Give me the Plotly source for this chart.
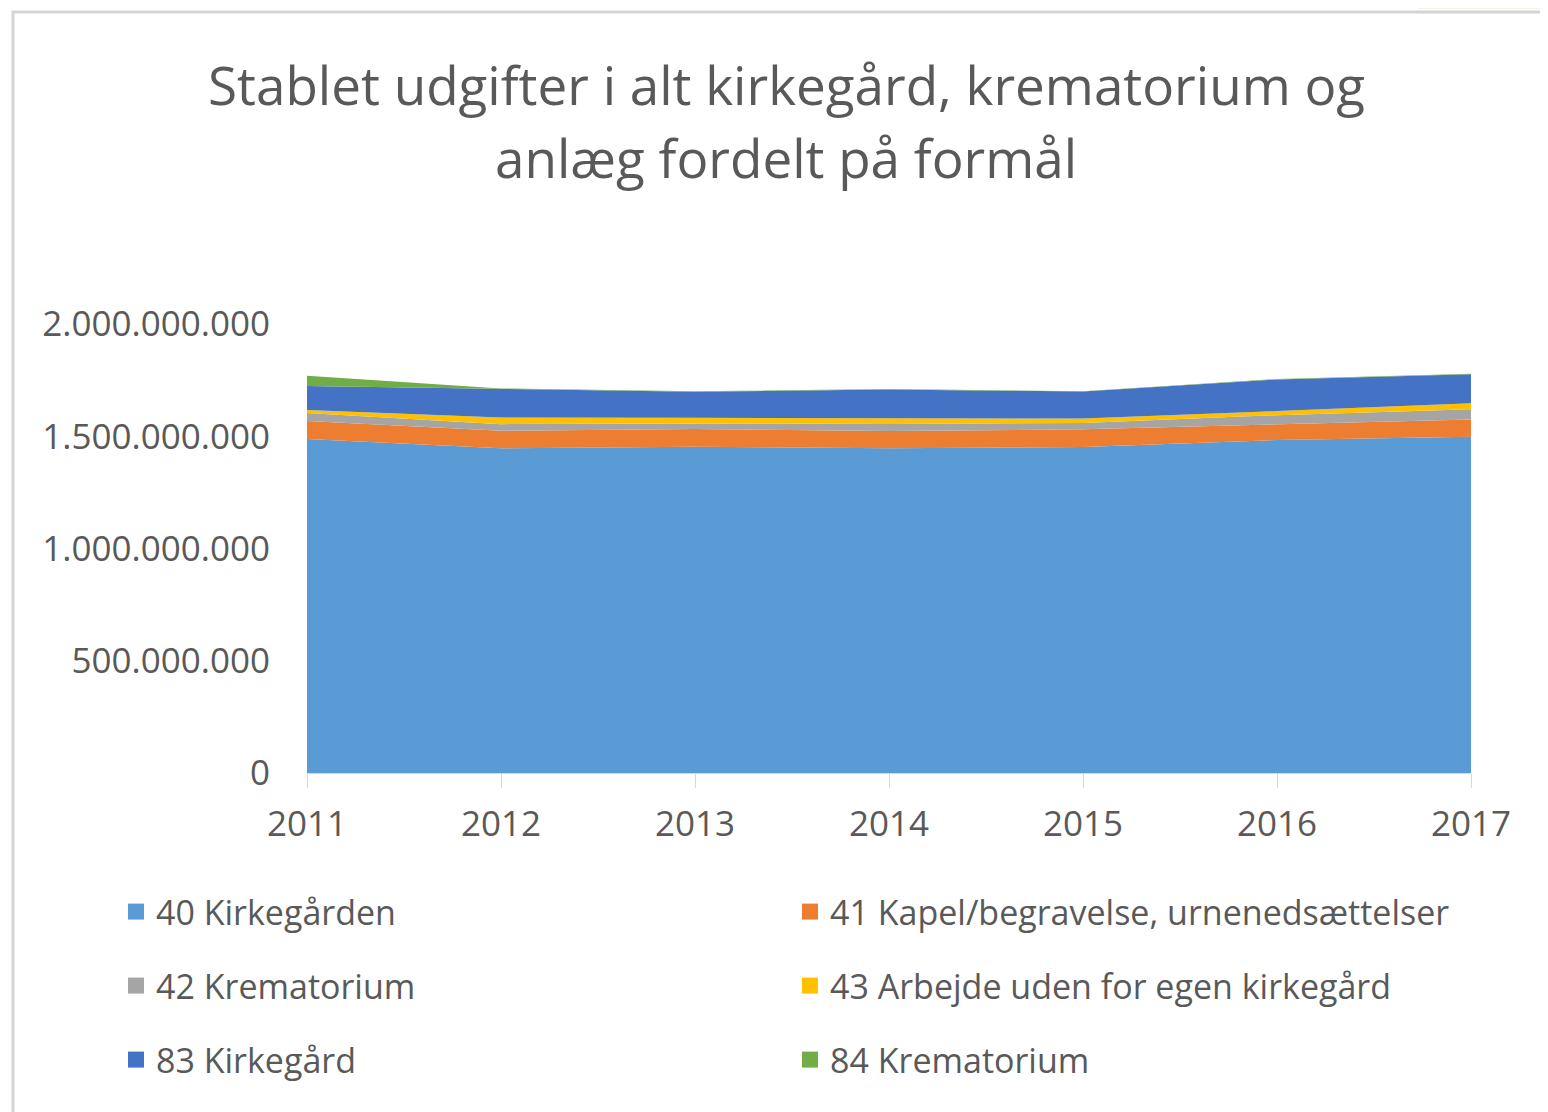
import plotly.graph_objects as go

years = [2011, 2012, 2013, 2014, 2015, 2016, 2017]
names = ["40 Kirkegården", "41 Kapel/begravelse, urnenedsættelser", "42 Krematorium",
         "43 Arbejde uden for egen kirkegård", "83 Kirkegård", "84 Krematorium"]
s40 = [1488e6, 1446e6, 1453e6, 1446e6, 1452e6, 1483e6, 1498e6]
s41 = [80e6, 78e6, 79e6, 77e6, 79e6, 71e6, 77e6]
s42 = [36e6, 30e6, 25e6, 32e6, 28e6, 40e6, 45e6]
s43 = [13e6, 30e6, 25e6, 24e6, 20e6, 18e6, 27e6]
s83 = [107e6, 126e6, 116e6, 129e6, 120e6, 141e6, 129e6]
s84 = [46e6, 3e6, 2e6, 2e6, 2e6, 2e6, 2e6]
series = [s40, s41, s42, s43, s83, s84]
colors = ["#5B9BD5", "#ED7D31", "#A5A5A5", "#FFC000", "#4472C4", "#70AD47"]
y_ticks = [0, 500e6, 1000e6, 1500e6, 2000e6]

FONT = "Open Sans"
GRAY = "#595959"

OFF = 8  # page body margin
L, R, T, B = 307, 1471, 324, 773  # reference pixel positions of plot area
W, H = 1548 - OFF, 1112 - OFF
PW, PH = R - L, B - T

def px_x(p):
    return (p - L) / PW

def px_y(p):
    return (B - p) / PH

fig = go.Figure()
for name, vals, col in zip(names, series, colors):
    fig.add_trace(go.Scatter(x=years, y=vals, name=name, stackgroup="one",
                             mode="lines", line=dict(width=0, color=col),
                             fillcolor=col, showlegend=False, hoverinfo="x+y+name"))

legend_ids = ["legend", "legend", "legend2", "legend2", "legend3", "legend3"]
for name, col, lid in zip(names, colors, legend_ids):
    fig.add_trace(go.Scatter(x=[None], y=[None], name=name, mode="markers",
                             marker=dict(symbol="square", size=20, color=col),
                             legend=lid, showlegend=True))

leg_common = dict(orientation="h", entrywidth=629, entrywidthmode="pixels",
                  traceorder="normal",
                  font=dict(family=FONT, size=34, color=GRAY),
                  bgcolor="rgba(0,0,0,0)", xanchor="left", yanchor="middle",
                  itemclick=False, itemdoubleclick=False)
leg_x = px_x(116)
fig.update_layout(
    legend=dict(x=leg_x, y=px_y(912), **leg_common),
    legend2=dict(x=leg_x, y=px_y(986), **leg_common),
    legend3=dict(x=leg_x, y=px_y(1060), **leg_common),
)

fig.update_layout(
    width=W, height=H,
    margin=dict(l=L - OFF, r=W - (R - OFF), t=T - OFF, b=H - (B - OFF), autoexpand=False),
    paper_bgcolor="white", plot_bgcolor="white",
    separators=",.",
    font=dict(family=FONT, color=GRAY),
    xaxis=dict(range=[2011, 2017], tickvals=years, ticktext=[str(y) for y in years],
               showgrid=False, showline=True, linecolor="#D9D9D9", linewidth=1,
               ticks="outside", ticklen=14, tickcolor="#D9D9D9",
               tickfont=dict(family=FONT, size=35, color=GRAY), zeroline=False,
               ticklabelstandoff=6),
    yaxis=dict(range=[0, 2000e6], tickvals=y_ticks, tickformat=",d",
               showgrid=True, gridcolor="#D9D9D9", gridwidth=1, zeroline=False,
               showline=False, ticks="",
               tickfont=dict(family=FONT, size=35, color=GRAY),
               ticklabelstandoff=36),
    annotations=[
        dict(text="Stablet udgifter i alt kirkegård, krematorium og", xref="paper", yref="paper",
             x=px_x(786), y=px_y(85), xanchor="center", yanchor="middle", showarrow=False,
             font=dict(family=FONT, size=53, color=GRAY)),
        dict(text="anlæg fordelt på formål", xref="paper", yref="paper",
             x=px_x(786), y=px_y(158), xanchor="center", yanchor="middle", showarrow=False,
             font=dict(family=FONT, size=53, color=GRAY)),
    ],
    shapes=[
        dict(type="rect", xref="paper", yref="paper", x0=px_x(13), x1=px_x(1600),
             y0=px_y(1200), y1=px_y(12), line=dict(color="#D4D4D4", width=3),
             fillcolor="rgba(0,0,0,0)", layer="below"),
        dict(type="rect", xref="paper", yref="paper", x0=px_x(1418), x1=px_x(1560),
             y0=px_y(9), y1=px_y(-5), line=dict(width=0), fillcolor="#F6F1E6",
             layer="below"),
    ],
)

fig.write_html("out.html")
